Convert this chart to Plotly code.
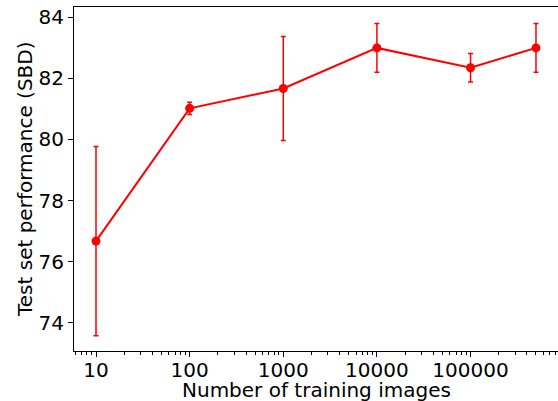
import plotly.graph_objects as go

n_images = [10, 100, 1000, 10000, 100000, 500000]
sbd_mean = [76.67, 81.02, 81.67, 83.0, 82.35, 83.0]
sbd_err = [3.1, 0.2, 1.7, 0.8, 0.47, 0.8]
x_tickvals = [10, 100, 1000, 10000, 100000]
x_ticktext = ["10", "100", "1000", "10000", "100000"]
y_tickvals = [74, 76, 78, 80, 82, 84]
x_title = "Number of training images"
y_title = "Test set performance (SBD)"

fig = go.Figure()
fig.add_trace(go.Scatter(
    x=n_images, y=sbd_mean, mode="lines+markers",
    line=dict(color="#ff0000", width=2),
    marker=dict(color="#ff0000", size=9),
    error_y=dict(type="data", array=sbd_err, visible=True,
                 color="#ff0000", thickness=1.5, width=2.5),
    showlegend=False,
))

font = dict(family="DejaVu Sans", size=20, color="black")
L, R, T, B = 74, 0, 7, 50
W, H = 558, 401
pw, ph = W - L - R, H - T - B

fig.update_layout(
    width=W, height=H,
    margin=dict(l=L, r=R, t=T, b=B, pad=0),
    paper_bgcolor="white", plot_bgcolor="white",
    font=font,
    xaxis=dict(
        type="log", range=[0.765, 5.934], automargin=False,
        tickvals=x_tickvals, ticktext=x_ticktext,
        ticks="outside", ticklen=5, tickwidth=1, tickcolor="black",
        ticklabelstandoff=-4,
        showline=True, linecolor="black", linewidth=1, mirror=True,
        showgrid=False, zeroline=False,
        minor=dict(ticks="outside", ticklen=2.5, tickwidth=0.8,
                   tickcolor="black", dtick="D1", showgrid=False),
        tickfont=font,
    ),
    yaxis=dict(
        range=[73.07, 84.34], automargin=False,
        tickvals=y_tickvals,
        ticks="outside", ticklen=5, tickwidth=1, tickcolor="black",
        showline=True, linecolor="black", linewidth=1,
        showgrid=False, zeroline=False,
        tickfont=font,
    ),
    annotations=[
        dict(text=x_title, xref="paper", yref="paper",
             x=(316 - L) / pw, y=-(390 - (T + ph)) / ph,
             xanchor="center", yanchor="middle", showarrow=False, font=font),
        dict(text=y_title, xref="paper", yref="paper",
             x=(25 - L) / pw, y=0.5, textangle=-90,
             xanchor="center", yanchor="middle", showarrow=False, font=font),
    ],
)

fig.write_html("out.html", config={"displayModeBar": False},
               post_script="document.body.style.margin='0';")
